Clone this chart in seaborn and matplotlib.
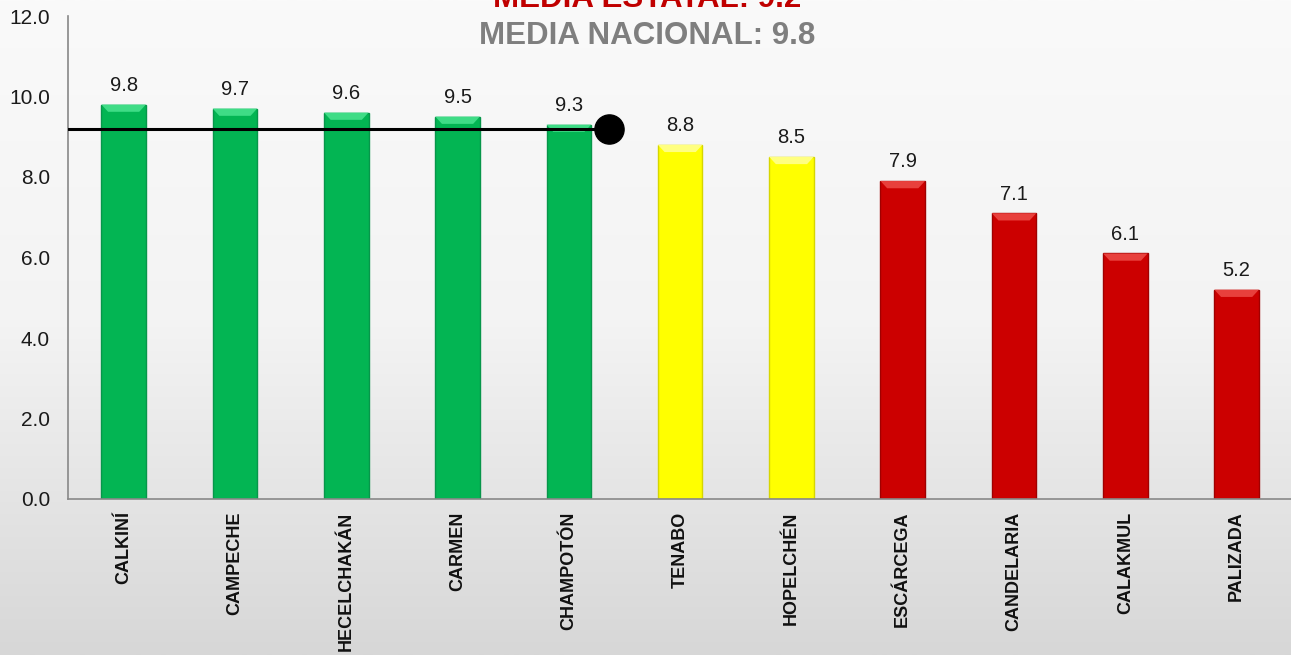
import numpy as np
import pandas as pd
import seaborn as sns
import matplotlib.pyplot as plt
from matplotlib.colors import LinearSegmentedColormap
from matplotlib.patches import Polygon

# Data
municipios = ['CALKINÍ', 'CAMPECHE', 'HECELCHAKÁN', 'CARMEN', 'CHAMPOTÓN',
              'TENABO', 'HOPELCHÉN', 'ESCÁRCEGA', 'CANDELARIA', 'CALAKMUL',
              'PALIZADA']
valores = [9.8, 9.7, 9.6, 9.5, 9.3, 8.8, 8.5, 7.9, 7.1, 6.1, 5.2]
nivel = ['alto', 'alto', 'alto', 'alto', 'alto', 'medio', 'medio',
         'bajo', 'bajo', 'bajo', 'bajo']
media_estatal = 9.2
media_nacional = 9.8

colores = {'alto': '#03b553', 'medio': '#ffff00', 'bajo': '#cc0000'}
claros = {'alto': '#3fdc86', 'medio': '#ffff80', 'bajo': '#e8403c'}
oscuros = {'alto': '#07964a', 'medio': '#d6d600', 'bajo': '#a00000'}

df = pd.DataFrame({'Municipio': municipios, 'Valor': valores, 'Nivel': nivel})

sns.set_theme(style='white')
plt.rcParams['font.family'] = ['Liberation Sans', 'DejaVu Sans']

fig = plt.figure(figsize=(12.91, 6.55), dpi=100)

# gradient background
bg = fig.add_axes([0, 0, 1, 1], zorder=-1)
cmap = LinearSegmentedColormap.from_list('fondo', ['#fafafa', '#f3f3f3', '#d7d7d7'])
grad = np.linspace(0, 1, 256).reshape(-1, 1)
bg.imshow(grad, aspect='auto', cmap=cmap, extent=[0, 1, 0, 1])
bg.axis('off')

ax = fig.add_axes([68 / 1291, 1 - 499 / 655, 1 - 68 / 1291 + 0.001, (499 - 16) / 655])
ax.set_facecolor('none')

pal = [colores[n] for n in nivel]
sns.barplot(data=df, x='Municipio', y='Valor', hue='Municipio', palette=pal,
            legend=False, width=0.4, saturation=1, ax=ax, zorder=2)

# bevel look on each bar
for p, n in zip(ax.patches, nivel):
    p.set_edgecolor(oscuros[n])
    p.set_linewidth(1.0)
    x0, w, h = p.get_x(), p.get_width(), p.get_height()
    d = 0.06
    cap = Polygon([(x0, h), (x0 + w, h), (x0 + w - d, h - 0.18), (x0 + d, h - 0.18)],
                  closed=True, facecolor=claros[n], edgecolor='none', zorder=3)
    ax.add_patch(cap)

for c in ax.containers:
    ax.bar_label(c, fmt='%.1f', padding=7, fontsize=14.5, color='#1a1a1a')

# state mean line with end marker
ax.plot([-0.5, 4.36], [media_estatal, media_estatal], color='black', lw=2.2, zorder=4)
ax.plot([4.36], [media_estatal], 'o', color='black', ms=21, zorder=5)

ax.set_xlim(-0.5, len(municipios) - 0.5)
ax.set_ylim(0, 12)
ax.set_yticks(np.arange(0, 12.1, 2))
ax.set_yticklabels([f'{v:.1f}' for v in np.arange(0, 12.1, 2)])
ax.tick_params(axis='y', length=0, pad=13, labelsize=15, labelcolor='#1a1a1a')
ax.tick_params(axis='x', length=0, pad=9)
for lab in ax.get_xticklabels():
    lab.set_rotation(90)
    lab.set_fontweight('bold')
    lab.set_fontsize(13)
    lab.set_color('#111111')
ax.set_xlabel('')
ax.set_ylabel('')

for s in ['top', 'right']:
    ax.spines[s].set_visible(False)
for s in ['left', 'bottom']:
    ax.spines[s].set_color('#888888')
    ax.spines[s].set_linewidth(1.2)

fig.text(647 / 1291, 1 - 7 / 655, f'MEDIA ESTATAL: {media_estatal}', ha='center',
         va='baseline', fontsize=22.5, fontweight='bold', color='#c00000')
fig.text(647 / 1291, 1 - 44 / 655, f'MEDIA NACIONAL: {media_nacional}', ha='center',
         va='baseline', fontsize=22.5, fontweight='bold', color='#7f7f7f')

fig.savefig('out.png', dpi=100)
